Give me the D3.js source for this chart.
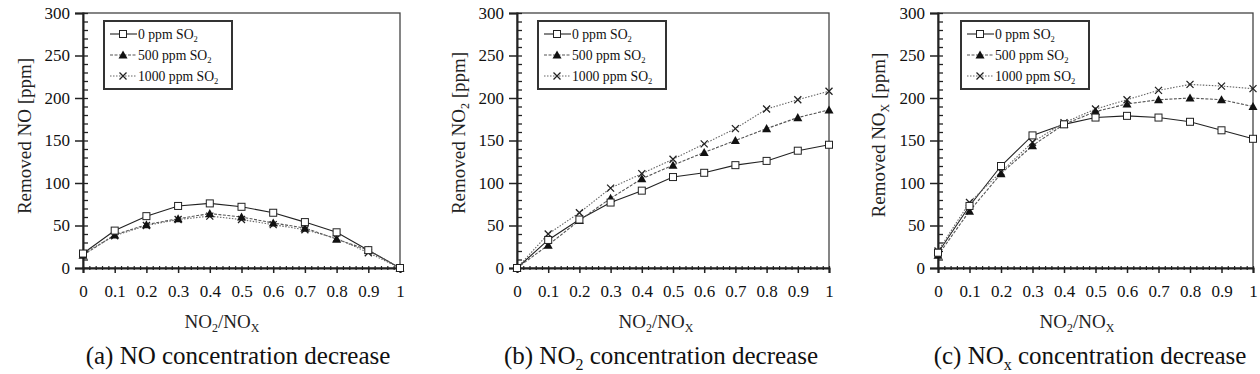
<!DOCTYPE html>
<html><head><meta charset="utf-8">
<script src="https://cdn.jsdelivr.net/npm/d3@7"></script>
<style>
body{margin:0;background:#fff;}
svg text{font-family:"Liberation Serif","Times New Roman",Times,"DejaVu Serif",serif !important;}
</style></head>
<body>
<svg id="chart" width="1260" height="374"></svg>
<script>
const ratios = [0,0.1,0.2,0.3,0.4,0.5,0.6,0.7,0.8,0.9,1];
const yTicks = [0,50,100,150,200,250,300];
const xTicks = [0,0.1,0.2,0.3,0.4,0.5,0.6,0.7,0.8,0.9,1];
const seriesNames = ["0 ppm SO2","500 ppm SO2","1000 ppm SO2"];

// (a) Removed NO
const noSO2_0    = [17,44,61,73,76,72,65,54,42,21,0];
const noSO2_500  = [15,39,51,58,64,60,53,47,34,21,0];
const noSO2_1000 = [17,38,50,57,61,57,51,45,35,18,0];
// (b) Removed NO2
const no2SO2_0    = [0,33,57,77,91,107,112,121,126,138,145];
const no2SO2_500  = [0,27,56,82,105,121,136,150,164,177,186];
const no2SO2_1000 = [0,40,65,94,111,128,146,164,187,198,208];
// (c) Removed NOx
const noxSO2_0    = [18,73,120,156,169,177,179,177,172,162,152];
const noxSO2_500  = [15,67,111,144,169,184,193,198,200,198,190];
const noxSO2_1000 = [20,77,113,148,171,187,198,209,216,214,211];

const panels = [
  {left:83, right:400, sub:"", capLetter:"(a) NO", capSub:"", data:[noSO2_0,noSO2_500,noSO2_1000], yTitleX:31, yTitleY:136, legX:104, capX:238},
  {left:517, right:829, sub:"2", capLetter:"(b) NO", capSub:"2", data:[no2SO2_0,no2SO2_500,no2SO2_1000], yTitleX:465, yTitleY:133, legX:538, capX:661},
  {left:938, right:1253, sub:"X", capLetter:"(c) NO", capSub:"x", data:[noxSO2_0,noxSO2_500,noxSO2_1000], yTitleX:885, yTitleY:135, legX:961, capX:1090}
];
const plotTop = 13, plotBottom = 268;
const svg = d3.select("#chart");
const ink = "#222";
const FONT = '"Liberation Serif","Times New Roman",Times,"DejaVu Serif",serif';

const styles = [
  {stroke:"#222", dash:null, marker:"square"},
  {stroke:"#555", dash:"3,1.5", marker:"triangle"},
  {stroke:"#666", dash:"1.5,1.5", marker:"cross"}
];

function drawMarker(g, type, x, y){
  if(type==="square"){
    g.append("rect").attr("x",x-3.5).attr("y",y-3.5).attr("width",7).attr("height",7)
      .attr("fill","#fff").attr("stroke","#222").attr("stroke-width",1);
  } else if(type==="triangle"){
    const s=4.5;
    g.append("path").attr("d",`M${x},${y-s}L${x+s},${y+s*0.8}L${x-s},${y+s*0.8}Z`).attr("fill","#111");
  } else {
    const s=3.5;
    g.append("path").attr("d",`M${x-s},${y-s}L${x+s},${y+s}M${x-s},${y+s}L${x+s},${y-s}`)
      .attr("stroke","#222").attr("stroke-width",1.3).attr("fill","none");
  }
}

panels.forEach((p,pi)=>{
  const x = d3.scaleLinear().domain([0,1]).range([p.left,p.right]);
  const y = d3.scaleLinear().domain([0,300]).range([plotBottom,plotTop]);
  const g = svg.append("g").attr("font-family",FONT);

  // frame
  g.append("rect").attr("x",p.left).attr("y",plotTop).attr("width",p.right-p.left).attr("height",plotBottom-plotTop)
    .attr("fill","none").attr("stroke","#444").attr("stroke-width",1.3);

  // y axis major
  const ya = g.append("g").attr("transform",`translate(${p.left},0)`)
    .call(d3.axisLeft(y).tickValues(yTicks).tickSize(8).tickPadding(5).tickFormat(d3.format("d")));
  ya.attr("font-family",FONT);
  ya.select(".domain").attr("stroke",ink).attr("stroke-width",2);
  ya.selectAll(".tick line").attr("stroke",ink).attr("stroke-width",1.5);
  ya.selectAll("text").attr("font-size",17).attr("fill","#111");
  // y minor (inside)
  const ym = g.append("g").attr("transform",`translate(${p.left},0)`)
    .call(d3.axisRight(y).tickValues(d3.range(0,301,10)).tickSize(5).tickFormat(""));
  ym.select(".domain").remove();
  ym.selectAll(".tick line").attr("stroke",ink).attr("stroke-width",1.3);

  // x axis major
  const xa = g.append("g").attr("transform",`translate(0,${plotBottom})`)
    .call(d3.axisBottom(x).tickValues(xTicks).tickSize(5).tickPadding(12).tickFormat(d=>d3.format("")(+d.toFixed(1))));
  xa.attr("font-family",FONT);
  xa.select(".domain").attr("stroke",ink).attr("stroke-width",2);
  xa.selectAll(".tick line").attr("stroke",ink).attr("stroke-width",1.5);
  xa.selectAll("text").attr("font-size",17).attr("fill","#111");
  // x minor
  const xm = g.append("g").attr("transform",`translate(0,${plotBottom-2})`)
    .call(d3.axisBottom(x).tickValues(d3.range(0,51).map(i=>i/50)).tickSize(4).tickFormat(""));
  xm.select(".domain").remove();
  xm.selectAll(".tick line").attr("stroke",ink).attr("stroke-width",1.2);

  // series
  p.data.forEach((vals,si)=>{
    const st = styles[si];
    const line = d3.line().x((d,i)=>x(ratios[i])).y(d=>y(d));
    g.append("path").datum(vals).attr("d",line).attr("fill","none")
      .attr("stroke",st.stroke).attr("stroke-width",1.1).attr("stroke-dasharray",st.dash);
  });
  [2,1,0].forEach(si=>{
    p.data[si].forEach((v,i)=>drawMarker(g, styles[si].marker, x(ratios[i]), y(v)));
  });

  // legend
  const lg = g.append("g").attr("transform",`translate(${p.legX},21)`);
  lg.append("rect").attr("x",0).attr("y",0).attr("width",128).attr("height",68)
    .attr("fill","#fff").attr("stroke","#333").attr("stroke-width",2);
  seriesNames.forEach((n,si)=>{
    const ly = 13 + si*21;
    lg.append("line").attr("x1",6).attr("x2",33).attr("y1",ly).attr("y2",ly)
      .attr("stroke",styles[si].stroke).attr("stroke-width",1.1).attr("stroke-dasharray",styles[si].dash);
    drawMarker(lg, styles[si].marker, 19, ly);
    const t = lg.append("text").attr("x",34).attr("y",ly+4.5).attr("font-size",13.7).attr("fill","#111");
    t.append("tspan").text(n.replace("SO2","SO"));
    t.append("tspan").text("2").attr("font-size",8.5).attr("dy",3);
  });

  // y title
  const yt = g.append("text").attr("transform",`translate(${p.yTitleX},${p.yTitleY}) rotate(-90)`)
    .attr("text-anchor","middle").attr("font-size",19).attr("fill","#222");
  yt.append("tspan").text("Removed NO");
  if(p.sub){
    yt.append("tspan").text(p.sub).attr("font-size",12).attr("dy",4);
    yt.append("tspan").text(" [ppm]").attr("dy",-4);
  } else {
    yt.append("tspan").text(" [ppm]");
  }

  // x title
  const xt = g.append("text").attr("x",p.left+139).attr("y",328).attr("text-anchor","middle")
    .attr("font-size",19).attr("fill","#222");
  xt.append("tspan").text("NO");
  xt.append("tspan").text("2").attr("font-size",12).attr("dy",4);
  xt.append("tspan").text("/NO").attr("dy",-4);
  xt.append("tspan").text("X").attr("font-size",12).attr("dy",4);

  // caption
  const ct = g.append("text").attr("x",p.capX).attr("y",364).attr("text-anchor","middle")
    .attr("font-size",25).attr("fill","#111");
  ct.append("tspan").text(p.capLetter);
  if(p.capSub){
    ct.append("tspan").text(p.capSub).attr("font-size",16).attr("dy",6);
    ct.append("tspan").text(" concentration decrease").attr("dy",-6);
  } else {
    ct.append("tspan").text(" concentration decrease");
  }
});
</script>
</body></html>
